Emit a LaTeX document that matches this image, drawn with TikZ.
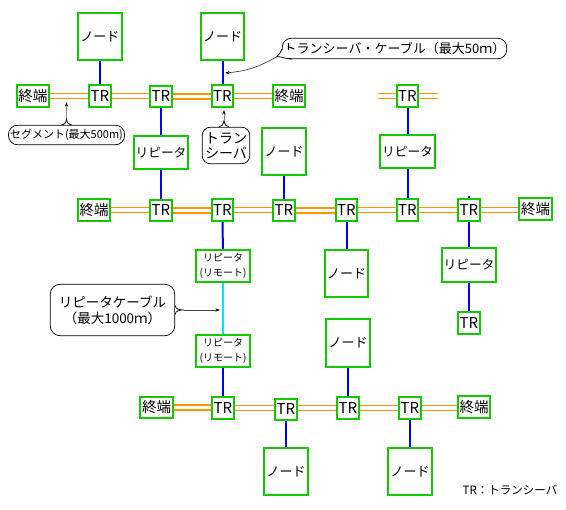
\documentclass[tikz,border=0pt]{standalone}
\usepackage{fontspec}
\setmainfont{Noto Sans CJK JP}
\usetikzlibrary{arrows.meta,backgrounds}
\definecolor{grn}{RGB}{20,200,0}
\definecolor{org}{RGB}{255,150,0}
\definecolor{blu}{RGB}{0,0,240}
\definecolor{cyn}{RGB}{0,230,255}
\tikzset{
  box/.style={draw=grn, line width=1.9pt, fill=white, inner sep=0pt},
  nodebox/.style={box, minimum width=43.2pt, minimum height=47.2pt, font=\fontsize{13}{15}\selectfont},
  trbox/.style={box, minimum width=21.2pt, minimum height=21.2pt, font=\fontsize{15}{17}\selectfont},
  termbox/.style={box, minimum width=32.2pt, minimum height=21.2pt, font=\fontsize{14.5}{16}\selectfont},
  repbox/.style={box, minimum width=54.7pt, minimum height=33.2pt, font=\fontsize{12.7}{15}\selectfont},
  rembox/.style={box, minimum width=54.2pt, minimum height=32.2pt, align=center, font=\fontsize{10}{15}\selectfont},
  bus/.style={draw=org, double=white, line width=1.6pt, double distance=3.1pt},
  bl/.style={draw=blu, line width=2pt},
  cy/.style={draw=cyn, line width=2pt},
  callout/.style={draw=black, line width=0.75pt, fill=white, inner sep=0pt},
  cl/.style={draw=black, line width=0.75pt},
  arr/.style={draw=black!75, line width=0.7pt, -{Stealth[length=4.5pt,width=3pt,black]}},
  garr/.style={draw=black!45, line width=1pt, -{Stealth[length=4.5pt,width=3pt,black]}},
}
\begin{document}
\begin{tikzpicture}[x=1pt,y=1pt]
\useasboundingbox (0,0) rectangle (566,-510);
% row 1
\node[termbox] (t1L) at (33,-96) {終端};
\node[trbox] (r1a) at (100,-96) {TR};
\node[trbox] (r1b) at (161,-96.5) {TR};
\node[trbox] (r1c) at (222.5,-96) {TR};
\node[termbox] (t1R) at (289,-96) {終端};
\node[trbox] (r1d) at (407.5,-96) {TR};
\node[nodebox] (n1) at (100,-36.5) {ノード};
\node[nodebox] (n2) at (222.5,-36.5) {ノード};
\node[repbox] (p1) at (161,-152.5) {リピータ};
\node[nodebox] (n3) at (284,-151.5) {ノード};
\node[repbox] (p2) at (407.5,-151.5) {リピータ};
% row 2
\node[termbox] (t2L) at (94,-210) {終端};
\node[trbox] (r2a) at (161,-210.5) {TR};
\node[trbox] (r2b) at (222.5,-210) {TR};
\node[trbox] (r2c) at (284,-210.5) {TR};
\node[trbox] (r2d) at (346.5,-210) {TR};
\node[trbox] (r2e) at (407.5,-210) {TR};
\node[trbox] (r2f) at (469,-210) {TR};
\node[termbox] (t2R) at (535.5,-209) {終端};
\node[nodebox] (n4) at (346.5,-273.5) {ノード};
\node[repbox] (p3) at (469,-265) {リピータ};
\node[trbox] (r2g) at (469,-323) {TR};
\node[rembox] (m1) at (223,-266) {リピータ\\(リモート)};
\node[rembox] (m2) at (223,-351) {リピータ\\(リモート)};
% row 3
\node[termbox] (t3L) at (156.5,-407.5) {終端};
\node[trbox] (r3a) at (223,-408) {TR};
\node[trbox] (r3b) at (286,-409.5) {TR};
\node[trbox] (r3c) at (348,-408) {TR};
\node[trbox] (r3d) at (410,-408) {TR};
\node[termbox] (t3R) at (474,-407) {終端};
\node[nodebox] (n5) at (348,-343) {ノード};
\node[nodebox] (n6) at (286,-471.5) {ノード};
\node[nodebox] (n7) at (410,-471.5) {ノード};
% legend
\node[font=\fontsize{11.5}{13}\selectfont] (lg) at (510,-490) {TR：トランシーバ};
% stubs
\coordinate (s1) at (378,-96);
\coordinate (s2) at (438,-96);
\coordinate (s3) at (469,-196);
\begin{scope}[on background layer]
  % buses
  \draw[bus] (t1L.east) -- (r1a.west);
  \draw[bus] (r1a.east) -- (r1a.east -| r1b.west);
  \draw[bus] (r1b.east) -- (r1b.east -| r1c.west);
  \draw[bus] (r1c.east) -- (t1R.west);
  \draw[bus] (s1) -- (s2);
  \draw[bus] (t2L.east) -- (t2L.east -| r2a.west);
  \draw[bus] (r2a.east) -- (r2a.east -| r2b.west);
  \draw[bus] (r2b.east) -- (r2b.east -| r2c.west);
  \draw[bus] (r2c.east) -- (r2c.east -| r2d.west);
  \draw[bus] (r2d.east) -- (r2e.west);
  \draw[bus] (r2e.east) -- (r2f.west);
  \draw[bus] (r2f.east) -- (r2f.east -| t2R.west);
  \draw[bus] (t3L.east) -- (t3L.east -| r3a.west);
  \draw[bus] (r3a.east) -- (r3a.east -| r3b.west);
  \draw[bus] (r3b.east |- r3a.east) -- (r3c.west);
  \draw[bus] (r3c.east) -- (r3d.west);
  \draw[bus] (r3d.east) -- (r3d.east -| t3R.west);
  % blue links
  \draw[bl] (n1) -- (r1a);
  \draw[bl] (n2) -- (r1c);
  \draw[bl] (r1b) -- (p1);
  \draw[bl] (p1) -- (r2a);
  \draw[bl] (n3) -- (r2c);
  \draw[bl] (r1d) -- (p2);
  \draw[bl] (p2) -- (r2e);
  \draw[bl] (r2d) -- (n4);
  \draw[bl] (r2f) -- (p3);
  \draw[bl] (p3) -- (r2g);
  \draw[bl] (s3) -- (r2f);
  \draw[bl] (r2b) -- (m1);
  \draw[cy] (m1) -- (m2);
  \draw[bl] (m2) -- (r3a);
  \draw[bl] (n5) -- (r3c);
  \draw[bl] (r3b) -- (n6);
  \draw[bl] (r3d) -- (n7);
\end{scope}
% callout: segment
\node[callout, rounded corners=9pt, minimum width=116pt, minimum height=19.5pt, font=\fontsize{11}{13}\selectfont] (c1) at (66.5,-135) {セグメント(最大500m)};
\fill[white] ([xshift=-4.5pt,yshift=-0.6pt]c1.north) rectangle ([xshift=4.5pt,yshift=0.6pt]c1.north);
\draw[cl] ([xshift=-5pt]c1.north) to[out=0,in=-90] ([yshift=6.5pt]c1.north) to[out=-90,in=180] ([xshift=5pt]c1.north);
\coordinate (a1) at (66.5,-102);
\draw[garr] ([yshift=6.5pt]c1.north) -- (a1);
% callout: transceiver
\node[callout, rounded corners=8pt, minimum width=47.5pt, minimum height=36.5pt, align=center, font=\fontsize{14}{15}\selectfont] (c2) at (226,-145.5) {トラン\\シーバ};
\fill[white] ([xshift=-6pt,yshift=-0.6pt]c2.north) rectangle ([xshift=2pt,yshift=0.6pt]c2.north);
\draw[cl] ([xshift=-7pt]c2.north) to[out=0,in=-90] ([xshift=-2pt,yshift=6pt]c2.north) to[out=-90,in=180] ([xshift=3pt]c2.north);
\coordinate (a2) at (224,-110);
\draw[garr] ([xshift=-2pt,yshift=6pt]c2.north) -- (a2);
% callout: transceiver cable
\node[callout, rounded corners=9pt, minimum width=224.5pt, minimum height=20.5pt, font=\fontsize{13}{15}\selectfont] (c3) at (394.5,-48.5) {トランシーバ・ケーブル（最大50ｍ）};
\fill[white] ([xshift=-0.6pt,yshift=9pt]c3.south west) rectangle ([xshift=9pt,yshift=0.8pt]c3.south west);
\draw[cl] ([yshift=10pt]c3.south west) to[out=-90,in=60] ([xshift=-5pt,yshift=2.5pt]c3.south west) to[out=0,in=180] ([xshift=10pt]c3.south west);
\coordinate (a3) at (225,-73);
\draw[arr] ([xshift=-5pt,yshift=2.5pt]c3.south west) to[out=-150,in=5] (a3);
% callout: repeater cable
\node[callout, rounded corners=10pt, minimum width=124.5pt, minimum height=51.5pt, align=center, font=\fontsize{13.5}{16}\selectfont] (c4) at (112.5,-310) {リピータケーブル\\（最大1000ｍ）};
\fill[white] ([xshift=-0.6pt,yshift=3.5pt]c4.east) rectangle ([xshift=0.6pt,yshift=-3.5pt]c4.east);
\draw[cl] ([yshift=4.5pt]c4.east) to[out=-90,in=180] ([xshift=9pt]c4.east) to[out=180,in=90] ([yshift=-4.5pt]c4.east);
\coordinate (a4) at (220,-310);
\draw[arr] ([xshift=9pt]c4.east) -- (a4);
\end{tikzpicture}
\end{document}
